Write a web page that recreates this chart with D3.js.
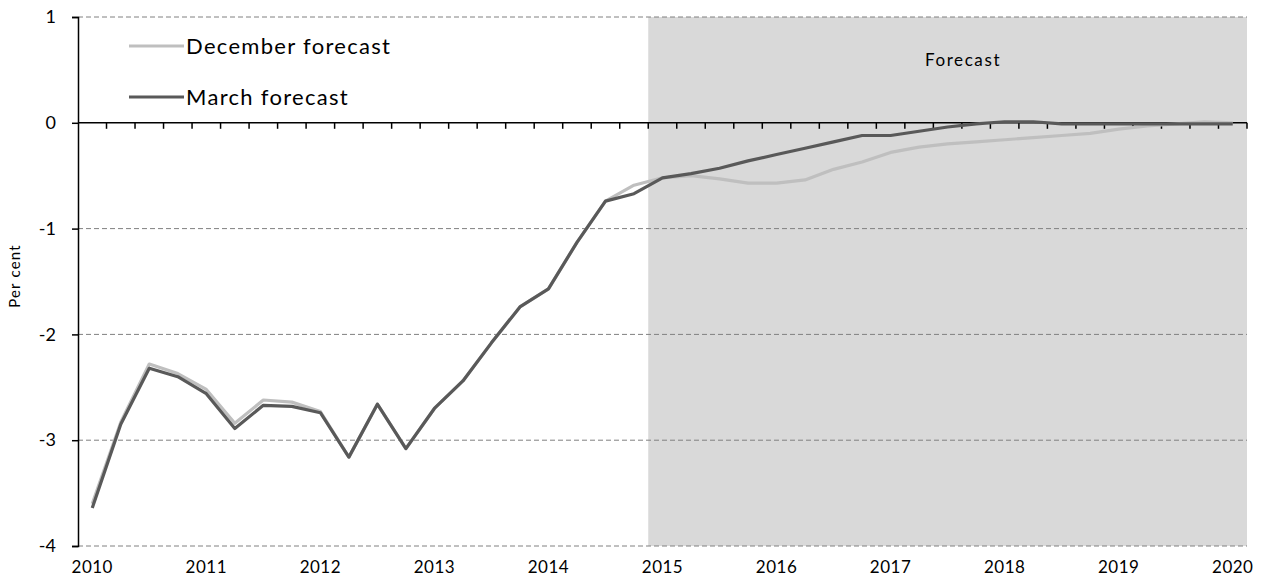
<!DOCTYPE html>
<html lang="en">
<head>
<meta charset="utf-8" />
<title>December vs March forecast</title>
<script src="https://d3js.org/d3.v7.min.js"></script>
<style>
  body { margin: 0; background: #fff; }
  text { font-family: Lato, "Open Sans", sans-serif; fill: #000; }
</style>
</head>
<body>
<div id="chart"></div>
<script>
// quarterly categories, 2010 Q1 to 2020 Q1
const quarters = [
  "2010Q1","2010Q2","2010Q3","2010Q4","2011Q1","2011Q2","2011Q3","2011Q4",
  "2012Q1","2012Q2","2012Q3","2012Q4","2013Q1","2013Q2","2013Q3","2013Q4",
  "2014Q1","2014Q2","2014Q3","2014Q4","2015Q1","2015Q2","2015Q3","2015Q4",
  "2016Q1","2016Q2","2016Q3","2016Q4","2017Q1","2017Q2","2017Q3","2017Q4",
  "2018Q1","2018Q2","2018Q3","2018Q4","2019Q1","2019Q2","2019Q3","2019Q4",
  "2020Q1"
];
const decemberForecast = [
  -3.60, -2.83, -2.28, -2.37, -2.52, -2.84, -2.62, -2.64,
  -2.73, -3.16, -2.66, -3.08, -2.70, -2.44, -2.08, -1.74,
  -1.57, -1.13, -0.74, -0.59, -0.52, -0.50, -0.53, -0.57,
  -0.57, -0.54, -0.44, -0.37, -0.28, -0.23, -0.20, -0.18,
  -0.16, -0.14, -0.12, -0.10, -0.06, -0.03, -0.01, 0.01,
  0.00
];
const marchForecast = [
  -3.64, -2.85, -2.32, -2.40, -2.56, -2.89, -2.67, -2.68,
  -2.74, -3.16, -2.66, -3.08, -2.70, -2.44, -2.08, -1.74,
  -1.57, -1.13, -0.74, -0.67, -0.52, -0.48, -0.43, -0.36,
  -0.30, -0.24, -0.18, -0.12, -0.12, -0.08, -0.04, -0.01,
  0.01, 0.01, -0.01, -0.01, -0.01, -0.01, -0.01, -0.01,
  -0.01
];
const forecastStart = "2015Q1";
const xTickLabels = ["2010","2011","2012","2013","2014","2015","2016","2017","2018","2019","2020"];
const yTicks = [1, 0, -1, -2, -3, -4];

const W = 1269, H = 587;
const svg = d3.select("#chart").append("svg")
    .attr("width", W)
    .attr("height", H);

const x = d3.scaleBand().domain(quarters).range([78, 1247]).padding(0);
const y = d3.scaleLinear().domain([-4, 1]).range([546, 17]);
const cx = d => x(d) + x.bandwidth() / 2;

// forecast shading
svg.append("rect")
    .attr("x", x(forecastStart))
    .attr("y", y(1))
    .attr("width", x.range()[1] - x(forecastStart))
    .attr("height", y(-4) - y(1))
    .attr("fill", "#d9d9d9");

svg.append("text")
    .attr("x", 963)
    .attr("y", 66)
    .attr("text-anchor", "middle")
    .style("font-size", "17px")
    .style("letter-spacing", "1.6px")
    .text("Forecast");

// dashed gridlines
svg.append("g")
  .selectAll("line")
  .data(yTicks.filter(v => v !== 0))
  .join("line")
    .attr("x1", 78).attr("x2", 1247)
    .attr("y1", d => y(d)).attr("y2", d => y(d))
    .attr("stroke", "#808080")
    .attr("stroke-width", 1)
    .attr("stroke-dasharray", "5,3");

// y axis
const yAxis = svg.append("g")
    .attr("transform", "translate(78,0)")
    .call(d3.axisLeft(y).tickValues(yTicks).tickFormat(d => String(d)).tickSize(6).tickPadding(16));
yAxis.select(".domain").attr("stroke", "#000").attr("stroke-width", 1.5);
yAxis.selectAll(".tick line").attr("stroke", "#000").attr("stroke-width", 1.5);
yAxis.selectAll("text").style("font-size", "18px").style("font-family", "Lato, sans-serif");

// zero line with quarter ticks
const zeroAxis = svg.append("g")
    .attr("transform", `translate(0,${y(0)})`);
zeroAxis.append("line")
    .attr("x1", 78).attr("x2", 1247)
    .attr("stroke", "#000").attr("stroke-width", 1.5);
zeroAxis.selectAll("line.qt")
  .data(quarters)
  .join("line")
    .attr("class", "qt")
    .attr("x1", d => x(d) + x.bandwidth()).attr("x2", d => x(d) + x.bandwidth())
    .attr("y1", 0).attr("y2", 6)
    .attr("stroke", "#000").attr("stroke-width", 1.5);

// year labels at Q1 of each year
svg.append("g")
  .selectAll("text")
  .data(xTickLabels)
  .join("text")
    .attr("x", d => cx(d + "Q1"))
    .attr("y", 573)
    .attr("text-anchor", "middle")
    .style("font-size", "17px")
    .style("letter-spacing", "0.5px")
    .text(d => d);

// y title
svg.append("text")
    .attr("transform", "translate(20,276) rotate(-90)")
    .attr("text-anchor", "middle")
    .style("font-size", "15px")
    .style("letter-spacing", "1.2px")
    .text("Per cent");

// lines
const line = d3.line()
    .x((d, i) => cx(quarters[i]))
    .y(d => y(d));

svg.append("path")
    .datum(decemberForecast)
    .attr("d", line)
    .attr("fill", "none")
    .attr("stroke", "#bfbfbf")
    .attr("stroke-width", 3.2)
    .attr("stroke-linejoin", "round");

svg.append("path")
    .datum(marchForecast)
    .attr("d", line)
    .attr("fill", "none")
    .attr("stroke", "#595959")
    .attr("stroke-width", 3.2)
    .attr("stroke-linejoin", "round");

// legend
const legend = [
  { name: "December forecast", color: "#bfbfbf", y: 46 },
  { name: "March forecast", color: "#595959", y: 97 }
];
const lg = svg.append("g").selectAll("g").data(legend).join("g");
lg.append("line")
    .attr("x1", 129).attr("x2", 184)
    .attr("y1", d => d.y).attr("y2", d => d.y)
    .attr("stroke", d => d.color)
    .attr("stroke-width", 3.2);
lg.append("text")
    .attr("x", 186)
    .attr("y", d => d.y + 8)
    .style("font-size", "22px")
    .style("letter-spacing", "1.3px")
    .text(d => d.name);
</script>
</body>
</html>
